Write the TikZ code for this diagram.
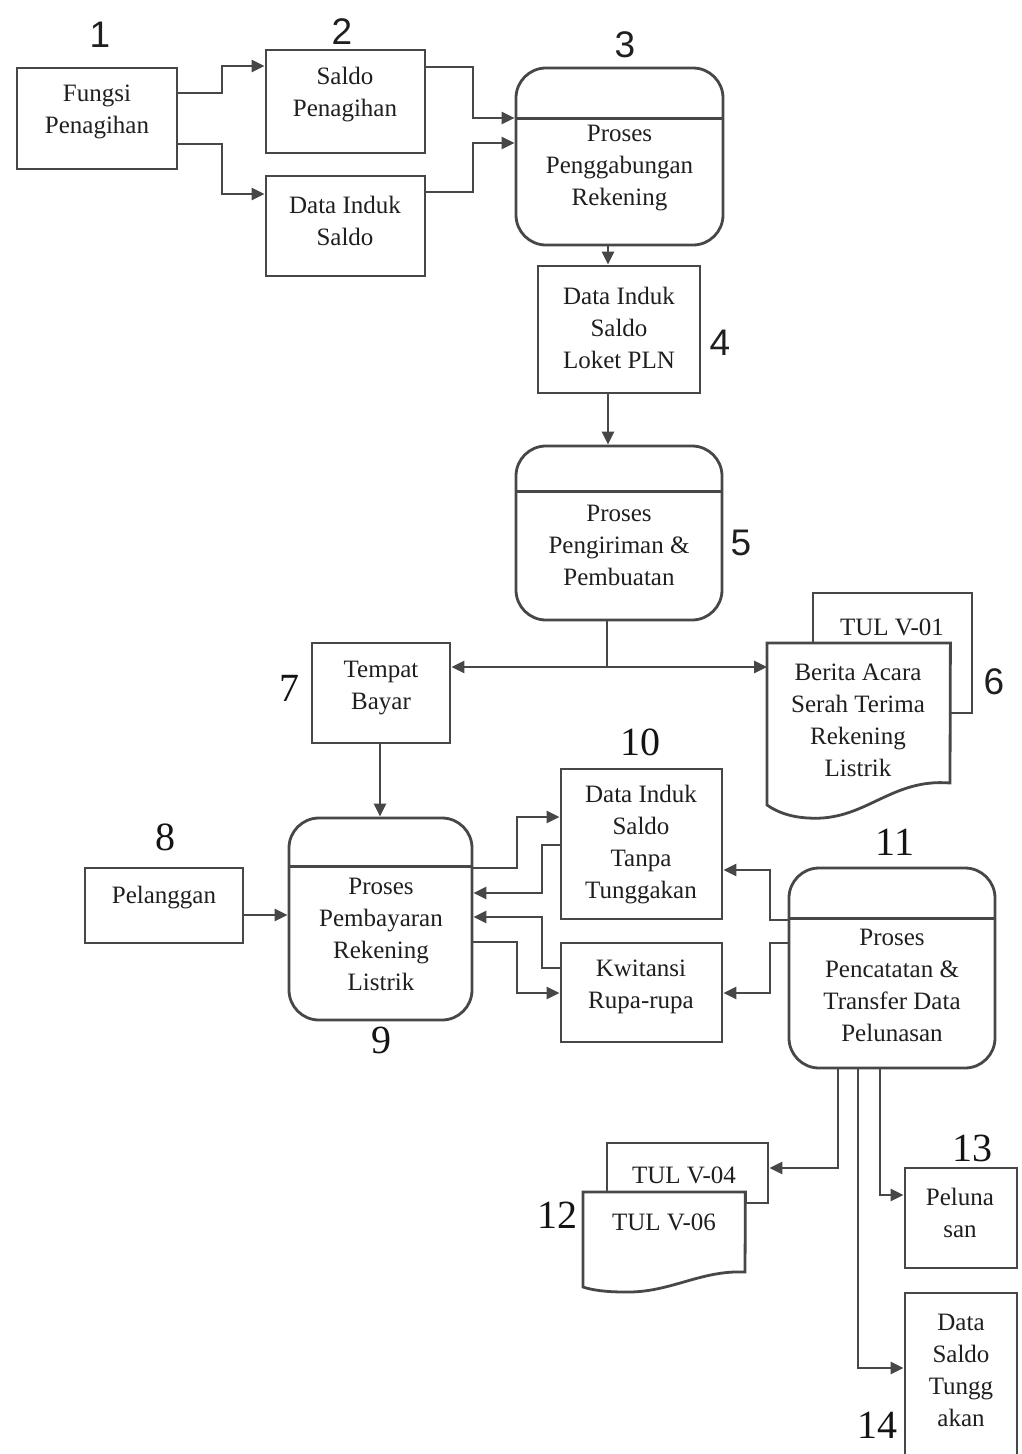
\documentclass[tikz,border=0pt]{standalone}
\usepackage{fontspec}
\setmainfont{Liberation Serif}
\newfontfamily\numsans{Liberation Sans}
\usetikzlibrary{arrows.meta,calc}
\definecolor{ink}{gray}{0.28}
\begin{document}
\begin{tikzpicture}[x=1pt,y=-1pt,
  box/.style={draw=ink, line width=2.8pt, rectangle, inner sep=0pt, fill=white},
  proc/.style={draw=ink, line width=2.8pt, rectangle, rounded corners=30pt, inner sep=0pt},
  txt/.style={align=center, inner sep=0pt, text=black!88, font=\fontsize{25}{32}\selectfont},
  nsans/.style={inner sep=0pt, text=black!88, font=\numsans\fontsize{37}{40}\selectfont},
  nserif/.style={inner sep=0pt, text=black!92, font=\fontsize{40}{44}\selectfont},
  conn/.style={draw=ink, line width=2.6pt},
  arr/.style={conn, -{Triangle[length=13pt,width=12pt]}}]
\useasboundingbox (0,0) rectangle (1021,1454);
\fill[white] (0,0) rectangle (1021,1454);

% ---- boxes ----
\node[box, minimum width=160, minimum height=101] (b1) at (97,118.5) {};
\node[txt] (t1) at (97,112) {Fungsi\\Penagihan};
\node[box, minimum width=159, minimum height=103] (b2) at (345.5,101.5) {};
\node[txt] (t2) at (345,95) {Saldo\\Penagihan};
\node[box, minimum width=159, minimum height=100] (bdis) at (345.5,226) {};
\node[txt] (tdis) at (345,221) {Data Induk\\Saldo};

\node[proc, minimum width=207, minimum height=177] (p3) at (619.5,156.5) {};
\draw[conn] ($(p3.north west)+(0,52)$) -- ($(p3.north east)+(0,52)$);
\node[txt] (t3) at (619.5,168) {Proses\\Penggabungan\\Rekening};

\node[box, minimum width=162, minimum height=127] (b4) at (619,329.5) {};
\node[txt] (t4) at (619,328) {Data Induk\\Saldo\\Loket PLN};

\node[proc, minimum width=206, minimum height=174] (p5) at (619,533) {};
\draw[conn] ($(p5.north west)+(0,47)$) -- ($(p5.north east)+(0,47)$);
\node[txt] (t5) at (619,545) {Proses\\Pengiriman \&\\Pembuatan};

\node[box, minimum width=138, minimum height=100] (b7) at (381,693) {};
\node[txt] (t7) at (381,688) {Tempat\\Bayar};

% document 6
\node[box, minimum width=159, minimum height=120] (d6b) at (892.5,653) {};
\node[txt] (t6b) at (892,627) {TUL V-01};
\node[inner sep=0pt, minimum width=183, minimum height=175, anchor=north west] (d6) at (767,643) {};
\draw[draw=ink, line width=2.8pt, fill=white] (d6.north west) -- (d6.north east) -- (950,783)
  .. controls (890,778) and (865,822) .. (808,818)
  .. controls (790,817) and (777,812) .. (767,805) -- cycle;
\node[txt] (t6) at (858,720) {Berita Acara\\Serah Terima\\Rekening\\Listrik};

\node[box, minimum width=158, minimum height=75] (b8) at (164,905.5) {};
\node[txt] (t8) at (164,898) {Pelanggan};

\node[proc, minimum width=183, minimum height=202] (p9) at (380.5,919) {};
\draw[conn] ($(p9.north west)+(0,50)$) -- ($(p9.north east)+(0,50)$);
\node[txt] (t9) at (381,934) {Proses\\Pembayaran\\Rekening\\Listrik};

\node[box, minimum width=161, minimum height=150] (b10) at (641.5,844) {};
\node[txt] (t10) at (641,845) {Data Induk\\Saldo\\Tanpa\\Tunggakan};
\node[box, minimum width=161, minimum height=99] (bkw) at (641.5,992.5) {};
\node[txt] (tkw) at (641,987) {Kwitansi\\Rupa-rupa};

\node[proc, minimum width=206, minimum height=200] (p11) at (892,968) {};
\draw[conn] ($(p11.north west)+(0,52)$) -- ($(p11.north east)+(0,52)$);
\node[txt] (t11) at (892,985) {Proses\\Pencatatan \&\\Transfer Data\\Pelunasan};

% document 12
\node[box, minimum width=161, minimum height=60] (d12b) at (687.5,1173) {};
\node[txt] (t12b) at (684,1175) {TUL V-04};
\node[inner sep=0pt, minimum width=162, minimum height=100, anchor=north west] (d12) at (583,1192) {};
\draw[draw=ink, line width=2.8pt, fill=white] (d12.north west) -- (d12.north east) -- (745,1272)
  .. controls (700,1270) and (670,1293) .. (625,1292)
  .. controls (605,1292) and (592,1290) .. (583,1287) -- cycle;
\node[txt] (t12) at (664,1222) {TUL V-06};

\node[box, minimum width=112, minimum height=100] (b13) at (961,1218) {};
\node[txt] (t13) at (960,1213) {Peluna\\san};
\node[box, minimum width=112, minimum height=182] (b14) at (961,1384) {};
\node[txt] (t14) at (961,1370) {Data\\Saldo\\Tungg\\akan};

% ---- numbers ----
\node[nsans] (n1) at (100,35) {1};
\node[nsans] (n2) at (342,32) {2};
\node[nsans] (n3) at (625,45) {3};
\node[nsans] (n4) at (720,343) {4};
\node[nsans] (n5) at (741,543) {5};
\node[nsans] (n6) at (994,682) {6};
\node[nserif] (n7) at (289,688) {7};
\node[nserif] (n8) at (165,837) {8};
\node[nserif] (n9) at (381,1040) {9};
\node[nserif] (n10) at (640,742) {10};
\node[nserif] (n11) at (895,842) {11};
\node[nserif] (n12) at (557,1215) {12};
\node[nserif] (n13) at (972,1148) {13};
\node[nserif] (n14) at (877,1425) {14};

% ---- connectors ----
\draw[arr] (b1.east |- 0,93) -- (222,93) |- (b2.west |- 0,66);
\draw[arr] (b1.east |- 0,144) -- (222,144) |- (bdis.west |- 0,194);
\draw[arr] (b2.east |- 0,67) -- (473,67) |- (p3.west |- 0,118);
\draw[arr] (bdis.east |- 0,192) -- (473,192) |- (p3.west |- 0,143);
\draw[arr] (p3.south -| 608,0) -- (b4.north -| 608,0);
\draw[arr] (b4.south -| 608,0) -- (p5.north -| 608,0);
\coordinate (j5) at (607,667);
\draw[conn] (p5.south -| j5) -- (j5);
\draw[arr] (j5) -- (b7.east |- j5);
\draw[arr] (j5) -- (d6.west |- j5);
\draw[arr] (b7.south -| 380,0) -- (p9.north -| 380,0);
\draw[arr] (b8.east |- 0,915) -- (p9.west |- 0,915);
\draw[arr] (p9.east |- 0,868) -- (517,868) |- (b10.west |- 0,817);
\draw[arr] (b10.west |- 0,845) -- (542,845) |- (p9.east |- 0,893);
\draw[arr] (bkw.west |- 0,968) -- (542,968) |- (p9.east |- 0,917);
\draw[arr] (p9.east |- 0,942) -- (517,942) |- (bkw.west |- 0,993);
\draw[arr] (p11.west |- 0,920) -- (770,920) |- (b10.east |- 0,870);
\draw[arr] (p11.west |- 0,943) -- (770,943) |- (bkw.east |- 0,993);
\draw[arr] (p11.south -| 838,0) |- (d12b.east |- 0,1168);
\draw[arr] (p11.south -| 880,0) |- (b13.west |- 0,1195);
\draw[arr] (p11.south -| 858,0) |- (b14.west |- 0,1368);
\end{tikzpicture}
\end{document}
